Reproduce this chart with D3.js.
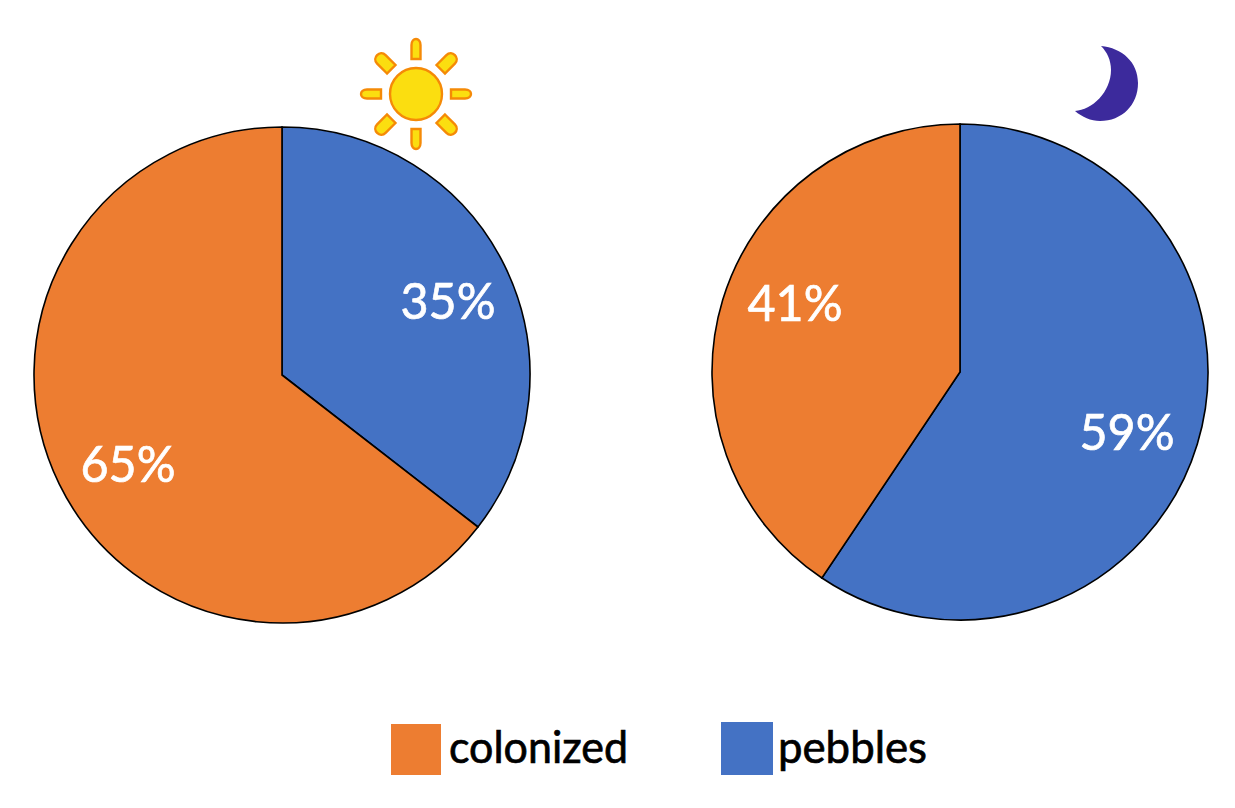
<!DOCTYPE html>
<html><head><meta charset="utf-8">
<script src="https://cdn.jsdelivr.net/npm/d3@7"></script>
<style>html,body{margin:0;padding:0;background:#fff}svg{display:block}text{font-family:Lato,"Open Sans",sans-serif}</style>
</head><body><svg id="c" width="1235" height="808"></svg>
<script>
const categories = ["pebbles", "colonized"];
const dayValues = [35.5, 64.5];
const nightValues = [59.4, 40.6];
const dayLabels = ["35%", "65%"];
const nightLabels = ["59%", "41%"];
const legendLabels = ["colonized", "pebbles"];
const colors = d3.scaleOrdinal().domain(categories).range(["#4472C4", "#ED7D31"]);
const svg = d3.select("#c");
const arc = d3.arc().innerRadius(0).outerRadius(248);
const pie = d3.pie().sort(null).value(d => d.v);

function drawPie(cx, cy, values, labels, labelPos) {
  const g = svg.append("g").attr("transform", `translate(${cx},${cy})`);
  const data = categories.map((c, i) => ({c, v: values[i], l: labels[i], p: labelPos[i]}));
  g.selectAll("path").data(pie(data)).join("path")
    .attr("d", arc).attr("fill", d => colors(d.data.c))
    .attr("stroke", "#000").attr("stroke-width", 1.6);
  g.selectAll("text").data(data).join("text")
    .attr("x", d => d.p[0]).attr("y", d => d.p[1])
    .attr("text-anchor", "middle").attr("fill", "#fff")
    .attr("stroke", "#fff").attr("stroke-width", 0.7)
    .attr("font-size", 50).attr("textLength", 95).attr("lengthAdjust", "spacingAndGlyphs")
    .text(d => d.l);
}
drawPie(282, 375, dayValues, dayLabels, [[166, -56], [-154, 107]]);
drawPie(960, 372, nightValues, nightLabels, [[167, 78], [-165, -51]]);

// sun
const sun = svg.append("g").attr("transform", "translate(416,94)");
sun.append("circle").attr("r", 26).attr("fill", "#FBDE10").attr("stroke", "#F58A07").attr("stroke-width", 2.4);
d3.range(0, 360, 45).forEach(a => {
  const w = a % 90 === 0 ? 4.5 : 6;
  sun.append("path")
    .attr("transform", `rotate(${a})`)
    .attr("d", `M${-w},-35V-49C${-w},-53 ${-w / 2},-55 0,-55C${w / 2},-55 ${w},-53 ${w},-49V-35Z`)
    .attr("fill", "#FBDE10").attr("stroke", "#F58A07").attr("stroke-width", 2.4);
});

// moon
svg.append("path")
  .attr("d", "M1101,46C1122,48 1138,62 1138,83C1138,105 1122,121 1100,121C1091,121 1082,117 1075,111C1092,110 1111,92 1111,70C1111,60 1107,52 1101,46Z")
  .attr("fill", "#3C2A9C");

// legend
const legend = svg.append("g");
[[391, 724, 50, 51, 449, 179], [721, 722, 52, 53, 778, 149]].forEach((p, i) => {
  legend.append("rect").attr("x", p[0]).attr("y", p[1]).attr("width", p[2]).attr("height", p[3])
    .attr("fill", colors(legendLabels[i]));
  legend.append("text").attr("x", p[4]).attr("y", 763).attr("font-size", 44)
    .attr("textLength", p[5]).attr("lengthAdjust", "spacingAndGlyphs").attr("fill", "#000")
    .attr("stroke", "#000").attr("stroke-width", 0.7)
    .text(legendLabels[i]);
});
</script></body></html>
